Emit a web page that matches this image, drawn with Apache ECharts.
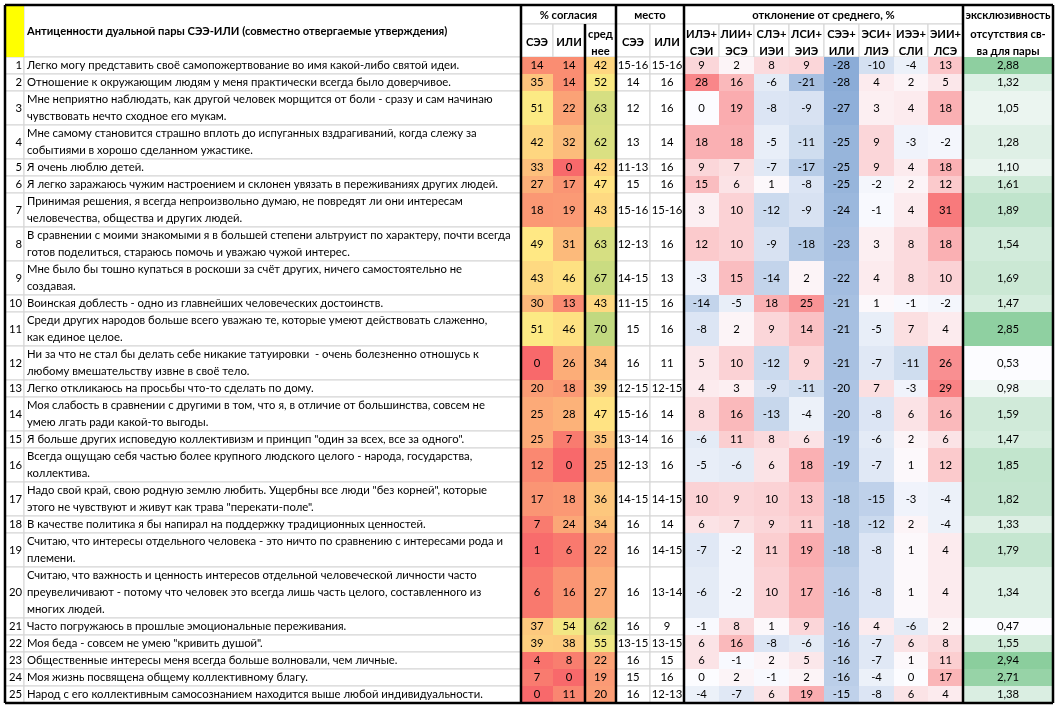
<!DOCTYPE html>
<html lang="ru">
  <head>
    <meta charset="UTF-8" />
    <title>Антиценности дуальной пары СЭЭ-ИЛИ</title>
    <script src="https://cdn.jsdelivr.net/npm/echarts@6.0.0/dist/echarts.min.js"></script>
    <style>
      html, body { margin: 0; padding: 0; background: #fff; }
    </style>
  </head>

  <body>
    <div id="main" style="width: 1060px; height: 708px"></div>
    <script type="text/javascript">
      const title = "Антиценности дуальной пары СЭЭ-ИЛИ (совместно отвергаемые утверждения)";
      const agreeHeads = ["СЭЭ", "ИЛИ", "сред\nнее"];
      const placeHeads = ["СЭЭ", "ИЛИ"];
      const pairNames = ["ИЛЭ+\nСЭИ", "ЛИИ+\nЭСЭ", "СЛЭ+\nИЭИ", "ЛСИ+\nЭИЭ", "СЭЭ+\nИЛИ", "ЭСИ+\nЛИЭ", "ИЭЭ+\nСЛИ", "ЭИИ+\nЛСЭ"];

      const statements = [
        "Легко могу представить своё самопожертвование во имя какой-либо святой идеи.",
        "Отношение к окружающим людям у меня практически всегда было доверчивое.",
        "Мне неприятно наблюдать, как другой человек морщится от боли - сразу и сам начинаю\nчувствовать нечто сходное его мукам.",
        "Мне самому становится страшно вплоть до испуганных вздрагиваний, когда слежу за\nсобытиями в хорошо сделанном ужастике.",
        "Я очень люблю детей.",
        "Я легко заражаюсь чужим настроением и склонен увязать в переживаниях других людей.",
        "Принимая решения, я всегда непроизвольно думаю, не повредят ли они интересам\nчеловечества, общества и других людей.",
        "В сравнении с моими знакомыми я в большей степени альтруист по характеру, почти всегда\nготов поделиться, стараюсь помочь и уважаю чужой интерес.",
        "Мне было бы тошно купаться в роскоши за счёт других, ничего самостоятельно не\nсоздавая.",
        "Воинская доблесть - одно из главнейших человеческих достоинств.",
        "Среди других народов больше всего уважаю те, которые умеют действовать слаженно,\nкак единое целое.",
        "Ни за что не стал бы делать себе никакие татуировки  - очень болезненно отношусь к\nлюбому вмешательству извне в своё тело.",
        "Легко откликаюсь на просьбы что-то сделать по дому.",
        "Моя слабость в сравнении с другими в том, что я, в отличие от большинства, совсем не\nумею лгать ради какой-то выгоды.",
        "Я больше других исповедую коллективизм и принцип \"один за всех, все за одного\".",
        "Всегда ощущаю себя частью более крупного людского целого - народа, государства,\nколлектива.",
        "Надо свой край, свою родную землю любить. Ущербны все люди \"без корней\", которые\nэтого не чувствуют и живут как трава \"перекати-поле\".",
        "В качестве политика я бы напирал на поддержку традиционных ценностей.",
        "Считаю, что интересы отдельного человека - это ничто по сравнению с интересами рода и\nплемени.",
        "Считаю, что важность и ценность интересов отдельной человеческой личности часто\nпреувеличивают - потому что человек это всегда лишь часть целого, составленного из\nмногих людей.",
        "Часто погружаюсь в прошлые эмоциональные переживания.",
        "Моя беда - совсем не умею \"кривить душой\".",
        "Общественные интересы меня всегда больше волновали, чем личные.",
        "Моя жизнь посвящена общему коллективному благу.",
        "Народ с его коллективным самосознанием находится выше любой индивидуальности."
      ];

      const agreeSEE = [14, 35, 51, 42, 33, 27, 18, 49, 43, 30, 51, 0, 20, 25, 25, 12, 17, 7, 1, 6, 37, 39, 4, 7, 0];
      const agreeILI = [14, 14, 22, 32, 0, 17, 19, 31, 46, 13, 46, 26, 18, 28, 7, 0, 18, 24, 6, 16, 54, 38, 8, 0, 11];
      const agreeMean = [42, 52, 63, 62, 42, 47, 43, 63, 67, 43, 70, 34, 39, 47, 35, 25, 36, 34, 22, 27, 62, 55, 22, 19, 20];

      const placeSEE = ["15-16", "14", "12", "13", "11-13", "15", "15-16", "12-13", "14-15", "11-15", "15", "16", "12-15",
        "15-16", "13-14", "12-13", "14-15", "16", "16", "16", "16", "13-15", "16", "15", "16"];
      const placeILI = ["15-16", "16", "16", "14", "16", "16", "15-16", "16", "13", "16", "16", "11", "12-15",
        "14", "16", "16", "14-15", "14", "14-15", "13-14", "9", "13-15", "15", "16", "12-13"];

      // deviation from the mean, %, one array per pair
      const devILE_SEI = [9, 28, 0, 18, 9, 15, 3, 12, -3, -14, -8, 5, 4, 8, -6, -5, 10, 6, -7, -6, -1, 6, 6, 0, -4];
      const devLII_ESE = [2, 16, 19, 18, 7, 6, 10, 10, 15, -5, 2, 10, 3, 16, 11, -6, 9, 7, -2, -2, 8, 16, -1, 2, -7];
      const devSLE_IEI = [8, -6, -8, -5, -7, 1, -12, -9, -14, 18, 9, -12, -9, -13, 8, 6, 10, 9, 11, 10, 1, -8, 2, -1, 6];
      const devLSI_EIE = [9, -21, -9, -11, -17, -8, -9, -18, 2, 25, 14, 9, -11, -4, 6, 18, 13, 11, 19, 17, 9, -6, 5, 2, 19];
      const devSEE_ILI = [-28, -28, -27, -25, -25, -25, -24, -23, -22, -21, -21, -21, -20, -20, -19, -19, -18, -18, -18, -16, -16, -16, -16, -16, -15];
      const devESI_LIE = [-10, 4, 3, 9, 9, -2, -1, 3, 4, 1, -5, -7, 7, -8, -6, -7, -15, -12, -8, -8, 4, -7, -7, -4, -8];
      const devIEE_SLI = [-4, 2, 4, -3, 4, 2, 4, 8, 8, -1, 7, -11, -3, 6, 2, 1, -3, 2, 1, 1, -6, 6, 1, 0, 6];
      const devEII_LSE = [13, 5, 18, -2, 18, 12, 31, 18, 10, -2, 4, 26, 29, 16, 6, 12, -4, -4, 4, 4, 2, 8, 11, 17, 4];
      const exclusivity = [2.88, 1.32, 1.05, 1.28, 1.10, 1.61, 1.89, 1.54, 1.69, 1.47, 2.85, 0.53, 0.98, 1.59, 1.47,
        1.85, 1.82, 1.33, 1.79, 1.34, 0.47, 1.55, 2.94, 2.71, 1.38];

      const deviations = [devILE_SEI, devLII_ESE, devSLE_IEI, devLSI_EIE, devSEE_ILI, devESI_LIE, devIEE_SLI, devEII_LSE];

      // ---- layout (px units on both value axes) ----
      const colW = [19, 497, 32, 32, 31, 34, 34, 35, 35, 35, 35, 35, 35, 34, 35, 90];
      const LINE = 17, HEAD1 = 19, HEAD2 = 33;
      const FONT = "11.3px Lato";
      const BOLD = "bold 11.2px Lato";

      const edges = [0];
      colW.forEach((w) => edges.push(edges[edges.length - 1] + w));
      const rowTop = [];
      let yy = HEAD1 + HEAD2;
      statements.forEach((s) => {
        rowTop.push(yy);
        yy += s.split("\n").length * LINE;
      });
      const totalH = yy;

      // excel-like colour scales
      const WHITE = [252, 252, 255];
      function mix(a, b, t) {
        t = Math.max(0, Math.min(1, t));
        return "rgb(" + a.map((v, i) => Math.round(v + (b[i] - v) * t)).join(",") + ")";
      }
      function pctColor(v) {
        if (v <= 50) return mix([248, 105, 107], [255, 235, 132], v / 50);
        return mix([255, 235, 132], [99, 190, 123], (v - 50) / 50);
      }
      function devColor(v) {
        return v < 0 ? mix(WHITE, [90, 138, 198], -v / 40) : mix(WHITE, [248, 105, 107], v / 35);
      }
      function exclColor(v) {
        return mix(WHITE, [99, 190, 123], (v - 0.72) / 3);
      }

      const plainCells = [];
      const filledCells = [];
      function cell(list, c0, c1, y0, y1, text, o) {
        o = o || {};
        list.push({
          x0: edges[c0], x1: edges[c1], y0: y0, y1: y1, text: String(text),
          fill: o.fill || "#fff", stroke: o.stroke === undefined ? "#d4d4d4" : o.stroke,
          align: o.align || "center", font: o.font || FONT, dy: o.dy || 0
        });
      }

      // header
      const HEAD = HEAD1 + HEAD2;
      cell(filledCells, 0, 1, 0, HEAD, "", { fill: "#ffff00", stroke: null });
      cell(plainCells, 1, 2, 0, HEAD, title, { align: "left", font: BOLD });
      cell(plainCells, 2, 5, 0, HEAD1, "% согласия", { font: BOLD, dy: 1 });
      cell(plainCells, 5, 7, 0, HEAD1, "место", { font: BOLD, dy: 1 });
      cell(plainCells, 7, 15, 0, HEAD1, "отклонение от среднего, %", { font: BOLD, dy: 1 });
      cell(plainCells, 15, 16, 0, HEAD1, "эксклюзивность", { font: BOLD, stroke: null, dy: 1 });
      agreeHeads.concat(placeHeads, pairNames).forEach((h, i) => {
        cell(plainCells, 2 + i, 3 + i, HEAD1, HEAD, h, { font: BOLD, dy: 2 });
      });
      cell(plainCells, 15, 16, HEAD1, HEAD, "отсутствия св-\nва для пары", { font: BOLD, stroke: null, dy: 2 });

      // body
      statements.forEach((s, r) => {
        const y0 = rowTop[r], y1 = y0 + s.split("\n").length * LINE;
        cell(plainCells, 0, 1, y0, y1, r + 1, { align: "right" });
        cell(plainCells, 1, 2, y0, y1, s, { align: "left" });
        [agreeSEE, agreeILI, agreeMean].forEach((arr, k) => {
          cell(filledCells, 2 + k, 3 + k, y0, y1, arr[r], { fill: pctColor(arr[r]), stroke: null });
        });
        cell(plainCells, 5, 6, y0, y1, placeSEE[r]);
        cell(plainCells, 6, 7, y0, y1, placeILI[r]);
        deviations.forEach((arr, k) => {
          cell(filledCells, 7 + k, 8 + k, y0, y1, arr[r], { fill: devColor(arr[r]), stroke: null });
        });
        cell(filledCells, 15, 16, y0, y1, exclusivity[r].toFixed(2).replace(".", ","),
          { fill: exclColor(exclusivity[r]), stroke: null });
      });

      const cells = plainCells.concat(filledCells);

      // thick black borders
      const W = edges[edges.length - 1];
      const borders = [
        [0, 0, W, 0], [0, totalH, W, totalH],
        [edges[0], 0, edges[0], totalH],
        [edges[2], 0, edges[2], totalH],
        [edges[4], HEAD1, edges[4], totalH],
        [edges[5], 0, edges[5], totalH],
        [edges[7], 0, edges[7], totalH],
        [edges[15], 0, edges[15], totalH],
        [W, 0, W, totalH]
      ];

      const myChart = echarts.init(document.getElementById("main"));
      myChart.setOption({
        animation: false,
        grid: { left: 5, right: 7, top: 5, bottom: 5 },
        xAxis: { type: "value", min: 0, max: W, show: false },
        yAxis: { type: "value", min: 0, max: totalH, inverse: true, show: false },
        series: [
          {
            type: "custom",
            z: 2,
            data: cells.map((c, i) => [c.x0, c.y0, c.x1, c.y1, i]),
            renderItem: function (params, api) {
              const c = cells[api.value(4)];
              const p0 = api.coord([api.value(0), api.value(1)]);
              const p1 = api.coord([api.value(2), api.value(3)]);
              const children = [
                {
                  type: "rect",
                  shape: { x: p0[0], y: p0[1], width: p1[0] - p0[0], height: p1[1] - p0[1] },
                  style: { fill: c.fill, stroke: c.stroke, lineWidth: 1 }
                }
              ];
              if (c.text) {
                let tx = (p0[0] + p1[0]) / 2;
                if (c.align === "left") tx = p0[0] + 3;
                if (c.align === "right") tx = p1[0] - 2;
                children.push({
                  type: "text",
                  style: {
                    x: tx, y: (p0[1] + p1[1]) / 2 + c.dy, text: c.text,
                    align: c.align, verticalAlign: "middle",
                    font: c.font, lineHeight: LINE, fill: "#000"
                  }
                });
              }
              return { type: "group", children: children };
            }
          },
          {
            type: "custom",
            z: 5,
            data: borders,
            renderItem: function (params, api) {
              const a = api.coord([api.value(0), api.value(1)]);
              const b = api.coord([api.value(2), api.value(3)]);
              return {
                type: "line",
                shape: { x1: a[0], y1: a[1], x2: b[0], y2: b[1] },
                style: { stroke: "#000", lineWidth: 2.5 }
              };
            }
          }
        ]
      });
    </script>
  </body>
</html>
